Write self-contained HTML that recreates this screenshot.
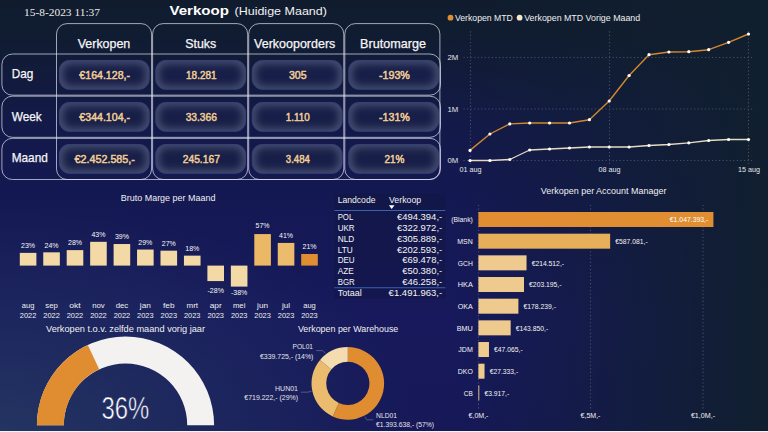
<!DOCTYPE html>
<html><head><meta charset="utf-8"><title>Verkoop (Huidige Maand)</title>
<style>
html,body{margin:0;padding:0;background:#101c2e;}
body{width:768px;height:432px;overflow:hidden;position:relative;font-family:"Liberation Sans",sans-serif;}
#bg{position:absolute;left:0;top:0;width:768px;height:432px;
 background:
  linear-gradient(to right, rgba(16,31,46,0) 450px, rgba(16,31,46,0.40) 580px, rgba(16,31,46,0.72) 680px, rgba(16,31,46,0.97) 768px),
  radial-gradient(ellipse 420px 230px at 0px 432px, rgba(36,54,98,0.95) 0%, rgba(36,54,98,0) 100%),
  linear-gradient(to bottom, #101c2e 0px, #101c30 30px, #131a48 120px, #141852 190px, #17195c 320px, #161858 432px);}
#bottomline{position:absolute;left:0;top:431px;width:768px;height:1px;background:#f4f4f6;}
svg{position:absolute;left:0;top:0;}
</style></head><body>
<div id="bg"></div>
<svg width="768" height="432" viewBox="0 0 768 432">
<defs>
<filter id="blur" x="-20%" y="-30%" width="140%" height="160%"><feGaussianBlur stdDeviation="4.2"/></filter>
<clipPath id="pc"><rect x="0" y="0" width="90.6" height="29.8" rx="11"/></clipPath>
</defs>
<g fill="none" stroke="#dfe3ee" stroke-opacity="0.7" stroke-width="1">
<rect x="56.50" y="23.6" width="95.10" height="155.90" rx="10.5"/>
<rect x="152.60" y="23.6" width="95.10" height="155.90" rx="10.5"/>
<rect x="248.70" y="23.6" width="95.10" height="155.90" rx="10.5"/>
<rect x="344.80" y="23.6" width="95.10" height="155.90" rx="10.5"/>
<rect x="1.9" y="54.00" width="438.60" height="41.17" rx="10.5"/>
<rect x="1.9" y="96.17" width="438.60" height="41.17" rx="10.5"/>
<rect x="1.9" y="138.34" width="438.60" height="41.17" rx="10.5"/>
</g>
<g transform="translate(58.95,59.90)"><rect width="90.6" height="29.8" rx="11" fill="#171f48"/><g clip-path="url(#pc)"><rect x="-1" y="-1" width="92.6" height="31.9" rx="12" fill="none" stroke="#a9b0c2" stroke-opacity="0.40" stroke-width="8" filter="url(#blur)"/></g><rect x="0.4" y="0.4" width="89.8" height="29.1" rx="10.6" fill="none" stroke="#2a3d8a" stroke-width="0.8" stroke-opacity="0.6"/></g>
<g transform="translate(155.40,59.90)"><rect width="90.6" height="29.8" rx="11" fill="#171f48"/><g clip-path="url(#pc)"><rect x="-1" y="-1" width="92.6" height="31.9" rx="12" fill="none" stroke="#a9b0c2" stroke-opacity="0.40" stroke-width="8" filter="url(#blur)"/></g><rect x="0.4" y="0.4" width="89.8" height="29.1" rx="10.6" fill="none" stroke="#2a3d8a" stroke-width="0.8" stroke-opacity="0.6"/></g>
<g transform="translate(251.85,59.90)"><rect width="90.6" height="29.8" rx="11" fill="#171f48"/><g clip-path="url(#pc)"><rect x="-1" y="-1" width="92.6" height="31.9" rx="12" fill="none" stroke="#a9b0c2" stroke-opacity="0.40" stroke-width="8" filter="url(#blur)"/></g><rect x="0.4" y="0.4" width="89.8" height="29.1" rx="10.6" fill="none" stroke="#2a3d8a" stroke-width="0.8" stroke-opacity="0.6"/></g>
<g transform="translate(348.30,59.90)"><rect width="90.6" height="29.8" rx="11" fill="#171f48"/><g clip-path="url(#pc)"><rect x="-1" y="-1" width="92.6" height="31.9" rx="12" fill="none" stroke="#a9b0c2" stroke-opacity="0.40" stroke-width="8" filter="url(#blur)"/></g><rect x="0.4" y="0.4" width="89.8" height="29.1" rx="10.6" fill="none" stroke="#2a3d8a" stroke-width="0.8" stroke-opacity="0.6"/></g>
<g transform="translate(58.95,102.00)"><rect width="90.6" height="29.8" rx="11" fill="#171f48"/><g clip-path="url(#pc)"><rect x="-1" y="-1" width="92.6" height="31.9" rx="12" fill="none" stroke="#a9b0c2" stroke-opacity="0.40" stroke-width="8" filter="url(#blur)"/></g><rect x="0.4" y="0.4" width="89.8" height="29.1" rx="10.6" fill="none" stroke="#2a3d8a" stroke-width="0.8" stroke-opacity="0.6"/></g>
<g transform="translate(155.40,102.00)"><rect width="90.6" height="29.8" rx="11" fill="#171f48"/><g clip-path="url(#pc)"><rect x="-1" y="-1" width="92.6" height="31.9" rx="12" fill="none" stroke="#a9b0c2" stroke-opacity="0.40" stroke-width="8" filter="url(#blur)"/></g><rect x="0.4" y="0.4" width="89.8" height="29.1" rx="10.6" fill="none" stroke="#2a3d8a" stroke-width="0.8" stroke-opacity="0.6"/></g>
<g transform="translate(251.85,102.00)"><rect width="90.6" height="29.8" rx="11" fill="#171f48"/><g clip-path="url(#pc)"><rect x="-1" y="-1" width="92.6" height="31.9" rx="12" fill="none" stroke="#a9b0c2" stroke-opacity="0.40" stroke-width="8" filter="url(#blur)"/></g><rect x="0.4" y="0.4" width="89.8" height="29.1" rx="10.6" fill="none" stroke="#2a3d8a" stroke-width="0.8" stroke-opacity="0.6"/></g>
<g transform="translate(348.30,102.00)"><rect width="90.6" height="29.8" rx="11" fill="#171f48"/><g clip-path="url(#pc)"><rect x="-1" y="-1" width="92.6" height="31.9" rx="12" fill="none" stroke="#a9b0c2" stroke-opacity="0.40" stroke-width="8" filter="url(#blur)"/></g><rect x="0.4" y="0.4" width="89.8" height="29.1" rx="10.6" fill="none" stroke="#2a3d8a" stroke-width="0.8" stroke-opacity="0.6"/></g>
<g transform="translate(58.95,143.90)"><rect width="90.6" height="29.8" rx="11" fill="#171f48"/><g clip-path="url(#pc)"><rect x="-1" y="-1" width="92.6" height="31.9" rx="12" fill="none" stroke="#a9b0c2" stroke-opacity="0.40" stroke-width="8" filter="url(#blur)"/></g><rect x="0.4" y="0.4" width="89.8" height="29.1" rx="10.6" fill="none" stroke="#2a3d8a" stroke-width="0.8" stroke-opacity="0.6"/></g>
<g transform="translate(155.40,143.90)"><rect width="90.6" height="29.8" rx="11" fill="#171f48"/><g clip-path="url(#pc)"><rect x="-1" y="-1" width="92.6" height="31.9" rx="12" fill="none" stroke="#a9b0c2" stroke-opacity="0.40" stroke-width="8" filter="url(#blur)"/></g><rect x="0.4" y="0.4" width="89.8" height="29.1" rx="10.6" fill="none" stroke="#2a3d8a" stroke-width="0.8" stroke-opacity="0.6"/></g>
<g transform="translate(251.85,143.90)"><rect width="90.6" height="29.8" rx="11" fill="#171f48"/><g clip-path="url(#pc)"><rect x="-1" y="-1" width="92.6" height="31.9" rx="12" fill="none" stroke="#a9b0c2" stroke-opacity="0.40" stroke-width="8" filter="url(#blur)"/></g><rect x="0.4" y="0.4" width="89.8" height="29.1" rx="10.6" fill="none" stroke="#2a3d8a" stroke-width="0.8" stroke-opacity="0.6"/></g>
<g transform="translate(348.30,143.90)"><rect width="90.6" height="29.8" rx="11" fill="#171f48"/><g clip-path="url(#pc)"><rect x="-1" y="-1" width="92.6" height="31.9" rx="12" fill="none" stroke="#a9b0c2" stroke-opacity="0.40" stroke-width="8" filter="url(#blur)"/></g><rect x="0.4" y="0.4" width="89.8" height="29.1" rx="10.6" fill="none" stroke="#2a3d8a" stroke-width="0.8" stroke-opacity="0.6"/></g>
<text x="24.00" y="16.30" font-size="11.2" text-anchor="start" fill="#eceae6" font-family="Liberation Serif" textLength="76.00" lengthAdjust="spacingAndGlyphs">15-8-2023 11:37</text>
<text x="169.50" y="15.00" font-size="12.8" text-anchor="start" fill="#ffffff" font-family="Liberation Sans" font-weight="700" textLength="59.50" lengthAdjust="spacingAndGlyphs">Verkoop</text>
<text x="234.50" y="15.00" font-size="10.5" text-anchor="start" fill="#f2f2f2" font-family="Liberation Sans" textLength="92.40" lengthAdjust="spacingAndGlyphs">(Huidige Maand)</text>
<text x="104.00" y="47.80" font-size="12.6" text-anchor="middle" fill="#f6f6f6" font-family="Liberation Sans" textLength="52.50" lengthAdjust="spacingAndGlyphs" stroke="#f6f6f6" stroke-width="0.25">Verkopen</text>
<text x="200.75" y="47.80" font-size="12.6" text-anchor="middle" fill="#f6f6f6" font-family="Liberation Sans" textLength="31.00" lengthAdjust="spacingAndGlyphs" stroke="#f6f6f6" stroke-width="0.25">Stuks</text>
<text x="294.70" y="47.80" font-size="12.6" text-anchor="middle" fill="#f6f6f6" font-family="Liberation Sans" textLength="81.30" lengthAdjust="spacingAndGlyphs" stroke="#f6f6f6" stroke-width="0.25">Verkooporders</text>
<text x="393.05" y="47.80" font-size="12.6" text-anchor="middle" fill="#f6f6f6" font-family="Liberation Sans" textLength="65.90" lengthAdjust="spacingAndGlyphs" stroke="#f6f6f6" stroke-width="0.25">Brutomarge</text>
<text x="11.70" y="78.00" font-size="12.6" text-anchor="start" fill="#f6f6f6" font-family="Liberation Sans" textLength="21.60" lengthAdjust="spacingAndGlyphs" stroke="#f6f6f6" stroke-width="0.25">Dag</text>
<text x="11.70" y="120.50" font-size="12.6" text-anchor="start" fill="#f6f6f6" font-family="Liberation Sans" textLength="30.00" lengthAdjust="spacingAndGlyphs" stroke="#f6f6f6" stroke-width="0.25">Week</text>
<text x="11.70" y="161.60" font-size="12.6" text-anchor="start" fill="#f6f6f6" font-family="Liberation Sans" textLength="36.10" lengthAdjust="spacingAndGlyphs" stroke="#f6f6f6" stroke-width="0.25">Maand</text>
<text x="104.70" y="79.00" font-size="11" text-anchor="middle" fill="#f1cd94" font-family="Liberation Sans" textLength="50.70" lengthAdjust="spacingAndGlyphs" stroke="#f1cd94" stroke-width="0.5">€164.128,-</text>
<text x="201.30" y="79.00" font-size="11" text-anchor="middle" fill="#f1cd94" font-family="Liberation Sans" textLength="30.50" lengthAdjust="spacingAndGlyphs" stroke="#f1cd94" stroke-width="0.5">18.281</text>
<text x="297.80" y="79.00" font-size="11" text-anchor="middle" fill="#f1cd94" font-family="Liberation Sans" textLength="17.60" lengthAdjust="spacingAndGlyphs" stroke="#f1cd94" stroke-width="0.5">305</text>
<text x="394.40" y="79.00" font-size="11" text-anchor="middle" fill="#f1cd94" font-family="Liberation Sans" textLength="31.00" lengthAdjust="spacingAndGlyphs" stroke="#f1cd94" stroke-width="0.5">-193%</text>
<text x="104.70" y="121.00" font-size="11" text-anchor="middle" fill="#f1cd94" font-family="Liberation Sans" textLength="50.70" lengthAdjust="spacingAndGlyphs" stroke="#f1cd94" stroke-width="0.5">€344.104,-</text>
<text x="201.30" y="121.00" font-size="11" text-anchor="middle" fill="#f1cd94" font-family="Liberation Sans" textLength="31.20" lengthAdjust="spacingAndGlyphs" stroke="#f1cd94" stroke-width="0.5">33.366</text>
<text x="297.80" y="121.00" font-size="11" text-anchor="middle" fill="#f1cd94" font-family="Liberation Sans" textLength="24.00" lengthAdjust="spacingAndGlyphs" stroke="#f1cd94" stroke-width="0.5">1.110</text>
<text x="394.40" y="121.00" font-size="11" text-anchor="middle" fill="#f1cd94" font-family="Liberation Sans" textLength="31.00" lengthAdjust="spacingAndGlyphs" stroke="#f1cd94" stroke-width="0.5">-131%</text>
<text x="104.70" y="162.70" font-size="11" text-anchor="middle" fill="#f1cd94" font-family="Liberation Sans" textLength="60.50" lengthAdjust="spacingAndGlyphs" stroke="#f1cd94" stroke-width="0.5">€2.452.585,-</text>
<text x="201.30" y="162.70" font-size="11" text-anchor="middle" fill="#f1cd94" font-family="Liberation Sans" textLength="37.20" lengthAdjust="spacingAndGlyphs" stroke="#f1cd94" stroke-width="0.5">245.167</text>
<text x="297.80" y="162.70" font-size="11" text-anchor="middle" fill="#f1cd94" font-family="Liberation Sans" textLength="24.00" lengthAdjust="spacingAndGlyphs" stroke="#f1cd94" stroke-width="0.5">3.484</text>
<text x="394.40" y="162.70" font-size="11" text-anchor="middle" fill="#f1cd94" font-family="Liberation Sans" textLength="20.00" lengthAdjust="spacingAndGlyphs" stroke="#f1cd94" stroke-width="0.5">21%</text>
<g stroke="#9aa0b4" stroke-width="1.1" stroke-dasharray="1.1 2.45" opacity="0.4">
<line x1="463.5" y1="57.5" x2="754.5" y2="57.5"/>
<line x1="463.5" y1="109" x2="754.5" y2="109"/>
<line x1="463.5" y1="160.5" x2="754.5" y2="160.5"/>
<line x1="470.5" y1="31.3" x2="470.5" y2="165"/>
<line x1="609.5" y1="31.3" x2="609.5" y2="165"/>
<line x1="748.5" y1="31.3" x2="748.5" y2="165"/>
</g>
<polyline points="470.0,160.5 489.9,160.5 509.8,159.5 529.7,150.0 549.6,149.0 569.5,148.0 589.4,147.0 609.2,147.0 629.1,147.0 649.0,145.5 668.9,144.5 688.8,142.8 708.7,140.5 728.6,139.5 748.5,139.5" fill="none" stroke="#e6d9be" stroke-width="1.3" stroke-linejoin="round"/>
<circle cx="470.0" cy="160.5" r="1.6" fill="#ffffff"/>
<circle cx="489.9" cy="160.5" r="1.6" fill="#ffffff"/>
<circle cx="509.8" cy="159.5" r="1.6" fill="#ffffff"/>
<circle cx="529.7" cy="150.0" r="1.6" fill="#ffffff"/>
<circle cx="549.6" cy="149.0" r="1.6" fill="#ffffff"/>
<circle cx="569.5" cy="148.0" r="1.6" fill="#ffffff"/>
<circle cx="589.4" cy="147.0" r="1.6" fill="#ffffff"/>
<circle cx="609.2" cy="147.0" r="1.6" fill="#ffffff"/>
<circle cx="629.1" cy="147.0" r="1.6" fill="#ffffff"/>
<circle cx="649.0" cy="145.5" r="1.6" fill="#ffffff"/>
<circle cx="668.9" cy="144.5" r="1.6" fill="#ffffff"/>
<circle cx="688.8" cy="142.8" r="1.6" fill="#ffffff"/>
<circle cx="708.7" cy="140.5" r="1.6" fill="#ffffff"/>
<circle cx="728.6" cy="139.5" r="1.6" fill="#ffffff"/>
<circle cx="748.5" cy="139.5" r="1.6" fill="#ffffff"/>
<polyline points="470.0,150.4 489.9,134.0 509.8,123.9 529.7,123.0 549.6,123.0 569.5,123.0 589.4,119.7 609.2,101.0 629.1,75.5 649.0,54.7 668.9,52.0 688.8,51.7 708.7,49.7 728.6,42.3 748.5,34.0" fill="none" stroke="#d4872b" stroke-width="1.4" stroke-linejoin="round"/>
<circle cx="470.0" cy="150.4" r="1.6" fill="#ffffff"/>
<circle cx="489.9" cy="134.0" r="1.6" fill="#ffffff"/>
<circle cx="509.8" cy="123.9" r="1.6" fill="#ffffff"/>
<circle cx="529.7" cy="123.0" r="1.6" fill="#ffffff"/>
<circle cx="549.6" cy="123.0" r="1.6" fill="#ffffff"/>
<circle cx="569.5" cy="123.0" r="1.6" fill="#ffffff"/>
<circle cx="589.4" cy="119.7" r="1.6" fill="#ffffff"/>
<circle cx="609.2" cy="101.0" r="1.6" fill="#ffffff"/>
<circle cx="629.1" cy="75.5" r="1.6" fill="#ffffff"/>
<circle cx="649.0" cy="54.7" r="1.6" fill="#ffffff"/>
<circle cx="668.9" cy="52.0" r="1.6" fill="#ffffff"/>
<circle cx="688.8" cy="51.7" r="1.6" fill="#ffffff"/>
<circle cx="708.7" cy="49.7" r="1.6" fill="#ffffff"/>
<circle cx="728.6" cy="42.3" r="1.6" fill="#ffffff"/>
<circle cx="748.5" cy="34.0" r="1.6" fill="#ffffff"/>
<text x="447.50" y="60.35" font-size="7.9" text-anchor="start" fill="#e6e6ea" font-family="Liberation Sans" textLength="10.80" lengthAdjust="spacingAndGlyphs">2M</text>
<text x="447.50" y="111.85" font-size="7.9" text-anchor="start" fill="#e6e6ea" font-family="Liberation Sans" textLength="10.80" lengthAdjust="spacingAndGlyphs">1M</text>
<text x="447.50" y="163.35" font-size="7.9" text-anchor="start" fill="#e6e6ea" font-family="Liberation Sans" textLength="10.80" lengthAdjust="spacingAndGlyphs">0M</text>
<text x="470.50" y="172.10" font-size="7.9" text-anchor="middle" fill="#e6e6ea" font-family="Liberation Sans" textLength="22.00" lengthAdjust="spacingAndGlyphs">01 aug</text>
<text x="609.50" y="172.10" font-size="7.9" text-anchor="middle" fill="#e6e6ea" font-family="Liberation Sans" textLength="22.00" lengthAdjust="spacingAndGlyphs">08 aug</text>
<text x="749.00" y="172.10" font-size="7.9" text-anchor="middle" fill="#e6e6ea" font-family="Liberation Sans" textLength="22.00" lengthAdjust="spacingAndGlyphs">15 aug</text>
<circle cx="450.5" cy="17.7" r="2.9" fill="#e08e31"/>
<text x="455.00" y="20.90" font-size="8.8" text-anchor="start" fill="#f0f0f0" font-family="Liberation Sans" textLength="57.80" lengthAdjust="spacingAndGlyphs">Verkopen MTD</text>
<circle cx="519.6" cy="17.7" r="2.9" fill="#f5e6c8"/>
<text x="524.20" y="20.90" font-size="8.8" text-anchor="start" fill="#f0f0f0" font-family="Liberation Sans" textLength="116.00" lengthAdjust="spacingAndGlyphs">Verkopen MTD Vorige Maand</text>
<text x="168.10" y="200.60" font-size="8.6" text-anchor="middle" fill="#f0f0f0" font-family="Liberation Sans" textLength="94.60" lengthAdjust="spacingAndGlyphs">Bruto Marge per Maand</text>
<rect x="19.80" y="252.88" width="16.60" height="12.72" fill="#f3d9a6"/>
<text x="28.10" y="248.08" font-size="7.6" text-anchor="middle" fill="#f8f8f8" font-family="Liberation Sans" textLength="14.00" lengthAdjust="spacingAndGlyphs">23%</text>
<text x="28.10" y="308.00" font-size="7.4" text-anchor="middle" fill="#f0f0f0" font-family="Liberation Sans" textLength="12.50" lengthAdjust="spacingAndGlyphs">aug</text>
<text x="28.10" y="318.00" font-size="7.4" text-anchor="middle" fill="#f0f0f0" font-family="Liberation Sans" textLength="16.50" lengthAdjust="spacingAndGlyphs">2022</text>
<rect x="43.25" y="252.33" width="16.60" height="13.27" fill="#f3d9a6"/>
<text x="51.55" y="247.53" font-size="7.6" text-anchor="middle" fill="#f8f8f8" font-family="Liberation Sans" textLength="14.00" lengthAdjust="spacingAndGlyphs">24%</text>
<text x="51.55" y="308.00" font-size="7.4" text-anchor="middle" fill="#f0f0f0" font-family="Liberation Sans" textLength="12.50" lengthAdjust="spacingAndGlyphs">sep</text>
<text x="51.55" y="318.00" font-size="7.4" text-anchor="middle" fill="#f0f0f0" font-family="Liberation Sans" textLength="16.50" lengthAdjust="spacingAndGlyphs">2022</text>
<rect x="66.70" y="250.12" width="16.60" height="15.48" fill="#f3d9a6"/>
<text x="75.00" y="245.32" font-size="7.6" text-anchor="middle" fill="#f8f8f8" font-family="Liberation Sans" textLength="14.00" lengthAdjust="spacingAndGlyphs">28%</text>
<text x="75.00" y="308.00" font-size="7.4" text-anchor="middle" fill="#f0f0f0" font-family="Liberation Sans" textLength="11.50" lengthAdjust="spacingAndGlyphs">okt</text>
<text x="75.00" y="318.00" font-size="7.4" text-anchor="middle" fill="#f0f0f0" font-family="Liberation Sans" textLength="16.50" lengthAdjust="spacingAndGlyphs">2022</text>
<rect x="90.15" y="241.82" width="16.60" height="23.78" fill="#f3d9a6"/>
<text x="98.45" y="237.02" font-size="7.6" text-anchor="middle" fill="#f8f8f8" font-family="Liberation Sans" textLength="14.00" lengthAdjust="spacingAndGlyphs">43%</text>
<text x="98.45" y="308.00" font-size="7.4" text-anchor="middle" fill="#f0f0f0" font-family="Liberation Sans" textLength="12.50" lengthAdjust="spacingAndGlyphs">nov</text>
<text x="98.45" y="318.00" font-size="7.4" text-anchor="middle" fill="#f0f0f0" font-family="Liberation Sans" textLength="16.50" lengthAdjust="spacingAndGlyphs">2022</text>
<rect x="113.60" y="244.03" width="16.60" height="21.57" fill="#f3d9a6"/>
<text x="121.90" y="239.23" font-size="7.6" text-anchor="middle" fill="#f8f8f8" font-family="Liberation Sans" textLength="14.00" lengthAdjust="spacingAndGlyphs">39%</text>
<text x="121.90" y="308.00" font-size="7.4" text-anchor="middle" fill="#f0f0f0" font-family="Liberation Sans" textLength="12.50" lengthAdjust="spacingAndGlyphs">dec</text>
<text x="121.90" y="318.00" font-size="7.4" text-anchor="middle" fill="#f0f0f0" font-family="Liberation Sans" textLength="16.50" lengthAdjust="spacingAndGlyphs">2022</text>
<rect x="137.05" y="249.56" width="16.60" height="16.04" fill="#f3d9a6"/>
<text x="145.35" y="244.76" font-size="7.6" text-anchor="middle" fill="#f8f8f8" font-family="Liberation Sans" textLength="14.00" lengthAdjust="spacingAndGlyphs">29%</text>
<text x="145.35" y="308.00" font-size="7.4" text-anchor="middle" fill="#f0f0f0" font-family="Liberation Sans" textLength="11.00" lengthAdjust="spacingAndGlyphs">jan</text>
<text x="145.35" y="318.00" font-size="7.4" text-anchor="middle" fill="#f0f0f0" font-family="Liberation Sans" textLength="16.50" lengthAdjust="spacingAndGlyphs">2023</text>
<rect x="160.50" y="250.67" width="16.60" height="14.93" fill="#f3d9a6"/>
<text x="168.80" y="245.87" font-size="7.6" text-anchor="middle" fill="#f8f8f8" font-family="Liberation Sans" textLength="14.00" lengthAdjust="spacingAndGlyphs">27%</text>
<text x="168.80" y="308.00" font-size="7.4" text-anchor="middle" fill="#f0f0f0" font-family="Liberation Sans" textLength="11.50" lengthAdjust="spacingAndGlyphs">feb</text>
<text x="168.80" y="318.00" font-size="7.4" text-anchor="middle" fill="#f0f0f0" font-family="Liberation Sans" textLength="16.50" lengthAdjust="spacingAndGlyphs">2023</text>
<rect x="183.95" y="255.65" width="16.60" height="9.95" fill="#f3d9a6"/>
<text x="192.25" y="250.85" font-size="7.6" text-anchor="middle" fill="#f8f8f8" font-family="Liberation Sans" textLength="14.00" lengthAdjust="spacingAndGlyphs">18%</text>
<text x="192.25" y="308.00" font-size="7.4" text-anchor="middle" fill="#f0f0f0" font-family="Liberation Sans" textLength="11.50" lengthAdjust="spacingAndGlyphs">mrt</text>
<text x="192.25" y="318.00" font-size="7.4" text-anchor="middle" fill="#f0f0f0" font-family="Liberation Sans" textLength="16.50" lengthAdjust="spacingAndGlyphs">2023</text>
<rect x="207.40" y="265.60" width="16.60" height="15.48" fill="#f3d9a6"/>
<text x="215.70" y="293.20" font-size="7.6" text-anchor="middle" fill="#f8f8f8" font-family="Liberation Sans" textLength="16.30" lengthAdjust="spacingAndGlyphs">-28%</text>
<text x="215.70" y="308.00" font-size="7.4" text-anchor="middle" fill="#f0f0f0" font-family="Liberation Sans" textLength="12.00" lengthAdjust="spacingAndGlyphs">apr</text>
<text x="215.70" y="318.00" font-size="7.4" text-anchor="middle" fill="#f0f0f0" font-family="Liberation Sans" textLength="16.50" lengthAdjust="spacingAndGlyphs">2023</text>
<rect x="230.85" y="265.60" width="16.60" height="21.01" fill="#f3d9a6"/>
<text x="239.15" y="294.70" font-size="7.6" text-anchor="middle" fill="#f8f8f8" font-family="Liberation Sans" textLength="16.30" lengthAdjust="spacingAndGlyphs">-38%</text>
<text x="239.15" y="308.00" font-size="7.4" text-anchor="middle" fill="#f0f0f0" font-family="Liberation Sans" textLength="12.50" lengthAdjust="spacingAndGlyphs">mei</text>
<text x="239.15" y="318.00" font-size="7.4" text-anchor="middle" fill="#f0f0f0" font-family="Liberation Sans" textLength="16.50" lengthAdjust="spacingAndGlyphs">2023</text>
<rect x="254.30" y="234.08" width="16.60" height="31.52" fill="#ebb865"/>
<text x="262.60" y="228.48" font-size="7.6" text-anchor="middle" fill="#f8f8f8" font-family="Liberation Sans" textLength="14.00" lengthAdjust="spacingAndGlyphs">57%</text>
<text x="262.60" y="308.00" font-size="7.4" text-anchor="middle" fill="#f0f0f0" font-family="Liberation Sans" textLength="11.00" lengthAdjust="spacingAndGlyphs">jun</text>
<text x="262.60" y="318.00" font-size="7.4" text-anchor="middle" fill="#f0f0f0" font-family="Liberation Sans" textLength="16.50" lengthAdjust="spacingAndGlyphs">2023</text>
<rect x="277.75" y="242.93" width="16.60" height="22.67" fill="#ecbc6c"/>
<text x="286.05" y="238.13" font-size="7.6" text-anchor="middle" fill="#f8f8f8" font-family="Liberation Sans" textLength="14.00" lengthAdjust="spacingAndGlyphs">41%</text>
<text x="286.05" y="308.00" font-size="7.4" text-anchor="middle" fill="#f0f0f0" font-family="Liberation Sans" textLength="8.00" lengthAdjust="spacingAndGlyphs">jul</text>
<text x="286.05" y="318.00" font-size="7.4" text-anchor="middle" fill="#f0f0f0" font-family="Liberation Sans" textLength="16.50" lengthAdjust="spacingAndGlyphs">2023</text>
<rect x="301.20" y="253.99" width="16.60" height="11.61" fill="#e08e31"/>
<text x="309.50" y="249.19" font-size="7.6" text-anchor="middle" fill="#f8f8f8" font-family="Liberation Sans" textLength="14.00" lengthAdjust="spacingAndGlyphs">21%</text>
<text x="309.50" y="308.00" font-size="7.4" text-anchor="middle" fill="#f0f0f0" font-family="Liberation Sans" textLength="12.50" lengthAdjust="spacingAndGlyphs">aug</text>
<text x="309.50" y="318.00" font-size="7.4" text-anchor="middle" fill="#f0f0f0" font-family="Liberation Sans" textLength="16.50" lengthAdjust="spacingAndGlyphs">2023</text>
<text x="125.50" y="331.60" font-size="8.6" text-anchor="middle" fill="#f0f0f0" font-family="Liberation Sans" textLength="159.00" lengthAdjust="spacingAndGlyphs">Verkopen t.o.v. zelfde maand vorig jaar</text>
<path d="M36.90,425.20 A88.6,88.6 0 0 1 214.10,425.20 L187.20,425.20 A61.7,61.7 0 0 0 63.80,425.20 Z" fill="#f3f2f1"/>
<path d="M36.90,425.20 A88.6,88.6 0 0 1 87.78,345.03 L99.23,369.37 A61.7,61.7 0 0 0 63.80,425.20 Z" fill="#e08d31"/>
<text x="125.45" y="419.25" font-size="30.8" text-anchor="middle" fill="#ffffff" font-family="Liberation Sans" textLength="47.80" lengthAdjust="spacingAndGlyphs" stroke="#1c2862" stroke-width="0.55">36%</text>
<text x="348.10" y="331.70" font-size="8.6" text-anchor="middle" fill="#f0f0f0" font-family="Liberation Sans" textLength="100.40" lengthAdjust="spacingAndGlyphs">Verkopen per Warehouse</text>
<path d="M347.80,347.10 A36.3,36.3 0 1 1 332.70,416.41 L338.81,403.04 A21.6,21.6 0 1 0 347.80,361.80 Z" fill="#e08d31"/>
<path d="M332.70,416.41 A36.3,36.3 0 0 1 320.06,359.98 L331.30,369.47 A21.6,21.6 0 0 0 338.81,403.04 Z" fill="#ecbc6e"/>
<path d="M320.06,359.98 A36.3,36.3 0 0 1 347.80,347.10 L347.80,361.80 A21.6,21.6 0 0 0 331.30,369.47 Z" fill="#f5dcae"/>
<text x="313.00" y="348.60" font-size="7.8" text-anchor="end" fill="#e4e4ea" font-family="Liberation Sans" textLength="20.50" lengthAdjust="spacingAndGlyphs">POL01</text>
<text x="313.40" y="359.00" font-size="7.8" text-anchor="end" fill="#e4e4ea" font-family="Liberation Sans" textLength="53.40" lengthAdjust="spacingAndGlyphs">€339.725,- (14%)</text>
<text x="298.00" y="390.80" font-size="7.8" text-anchor="end" fill="#e4e4ea" font-family="Liberation Sans" textLength="23.00" lengthAdjust="spacingAndGlyphs">HUN01</text>
<text x="298.00" y="400.00" font-size="7.8" text-anchor="end" fill="#e4e4ea" font-family="Liberation Sans" textLength="53.70" lengthAdjust="spacingAndGlyphs">€719.222,- (29%)</text>
<text x="376.10" y="417.80" font-size="7.8" text-anchor="start" fill="#e4e4ea" font-family="Liberation Sans" textLength="21.00" lengthAdjust="spacingAndGlyphs">NLD01</text>
<text x="376.10" y="427.30" font-size="7.8" text-anchor="start" fill="#e4e4ea" font-family="Liberation Sans" textLength="58.00" lengthAdjust="spacingAndGlyphs">€1.393.638,- (57%)</text>
<g fill="none" stroke="#7a80a2" stroke-width="0.8" opacity="0.75">
<polyline points="316.2,350.6 322.7,350.6 325.4,353.3"/>
<polyline points="300.8,392.2 308,392.2 311.6,391"/>
<polyline points="364.7,416.6 366.9,419.8 373.3,419.8"/>
</g>
<rect x="334.40" y="193.50" width="110.90" height="105.50" fill="#0e1538" opacity="0.33"/>
<text x="337.70" y="203.30" font-size="8.8" text-anchor="start" fill="#f2f2f2" font-family="Liberation Sans" textLength="37.80" lengthAdjust="spacingAndGlyphs">Landcode</text>
<text x="389.00" y="203.30" font-size="8.8" text-anchor="start" fill="#f2f2f2" font-family="Liberation Sans" textLength="32.20" lengthAdjust="spacingAndGlyphs">Verkoop</text>
<path d="M388.9,205.2 L394.5,205.2 L391.7,208.9 Z" fill="#ffffff"/>
<line x1="334.4" y1="210.5" x2="445.3" y2="210.5" stroke="#3a62b4" stroke-width="1.1"/>
<line x1="334.4" y1="287.8" x2="445.3" y2="287.8" stroke="#3a62b4" stroke-width="1.1"/>
<text x="337.70" y="219.75" font-size="8.8" text-anchor="start" fill="#f4f4f4" font-family="Liberation Sans" textLength="15.50" lengthAdjust="spacingAndGlyphs">POL</text>
<text x="442.20" y="219.75" font-size="8.8" text-anchor="end" fill="#f4f4f4" font-family="Liberation Sans" textLength="45.30" lengthAdjust="spacingAndGlyphs">€494.394,-</text>
<text x="337.70" y="230.67" font-size="8.8" text-anchor="start" fill="#f4f4f4" font-family="Liberation Sans" textLength="17.00" lengthAdjust="spacingAndGlyphs">UKR</text>
<text x="442.20" y="230.67" font-size="8.8" text-anchor="end" fill="#f4f4f4" font-family="Liberation Sans" textLength="45.30" lengthAdjust="spacingAndGlyphs">€322.972,-</text>
<text x="337.70" y="241.59" font-size="8.8" text-anchor="start" fill="#f4f4f4" font-family="Liberation Sans" textLength="16.50" lengthAdjust="spacingAndGlyphs">NLD</text>
<text x="442.20" y="241.59" font-size="8.8" text-anchor="end" fill="#f4f4f4" font-family="Liberation Sans" textLength="45.30" lengthAdjust="spacingAndGlyphs">€305.889,-</text>
<text x="337.70" y="252.51" font-size="8.8" text-anchor="start" fill="#f4f4f4" font-family="Liberation Sans" textLength="15.00" lengthAdjust="spacingAndGlyphs">LTU</text>
<text x="442.20" y="252.51" font-size="8.8" text-anchor="end" fill="#f4f4f4" font-family="Liberation Sans" textLength="45.30" lengthAdjust="spacingAndGlyphs">€202.593,-</text>
<text x="337.70" y="263.43" font-size="8.8" text-anchor="start" fill="#f4f4f4" font-family="Liberation Sans" textLength="17.00" lengthAdjust="spacingAndGlyphs">DEU</text>
<text x="442.20" y="263.43" font-size="8.8" text-anchor="end" fill="#f4f4f4" font-family="Liberation Sans" textLength="40.00" lengthAdjust="spacingAndGlyphs">€69.478,-</text>
<text x="337.70" y="274.35" font-size="8.8" text-anchor="start" fill="#f4f4f4" font-family="Liberation Sans" textLength="16.00" lengthAdjust="spacingAndGlyphs">AZE</text>
<text x="442.20" y="274.35" font-size="8.8" text-anchor="end" fill="#f4f4f4" font-family="Liberation Sans" textLength="40.00" lengthAdjust="spacingAndGlyphs">€50.380,-</text>
<text x="337.70" y="285.27" font-size="8.8" text-anchor="start" fill="#f4f4f4" font-family="Liberation Sans" textLength="17.00" lengthAdjust="spacingAndGlyphs">BGR</text>
<text x="442.20" y="285.27" font-size="8.8" text-anchor="end" fill="#f4f4f4" font-family="Liberation Sans" textLength="40.00" lengthAdjust="spacingAndGlyphs">€46.258,-</text>
<text x="337.70" y="296.19" font-size="8.8" text-anchor="start" fill="#f4f4f4" font-family="Liberation Sans" textLength="24.00" lengthAdjust="spacingAndGlyphs">Totaal</text>
<text x="442.20" y="296.19" font-size="8.8" text-anchor="end" fill="#f4f4f4" font-family="Liberation Sans" textLength="53.60" lengthAdjust="spacingAndGlyphs">€1.491.963,-</text>
<text x="603.60" y="193.90" font-size="8.7" text-anchor="middle" fill="#f0f0f0" font-family="Liberation Sans" textLength="125.60" lengthAdjust="spacingAndGlyphs">Verkopen per Account Manager</text>
<g stroke="#9aa0b4" stroke-width="1.1" stroke-dasharray="1.1 2.45" opacity="0.4">
<line x1="478.5" y1="205" x2="478.5" y2="409"/>
<line x1="590.5" y1="205" x2="590.5" y2="409"/>
<line x1="703" y1="205" x2="703" y2="409"/>
</g>
<rect x="478.40" y="212.00" width="235.03" height="15.00" fill="#e08e31"/>
<text x="472.80" y="222.30" font-size="7.8" text-anchor="end" fill="#f4f4f4" font-family="Liberation Sans" textLength="21.50" lengthAdjust="spacingAndGlyphs">(Blank)</text>
<text x="708.30" y="222.20" font-size="7.4" text-anchor="end" fill="#ffffff" font-family="Liberation Sans" textLength="38.50" lengthAdjust="spacingAndGlyphs">€1.047.393,-</text>
<rect x="478.40" y="233.67" width="131.74" height="15.00" fill="#e8af5b"/>
<text x="472.80" y="243.97" font-size="7.8" text-anchor="end" fill="#f4f4f4" font-family="Liberation Sans" textLength="15.50" lengthAdjust="spacingAndGlyphs">MSN</text>
<text x="615.24" y="243.87" font-size="7.4" text-anchor="start" fill="#f4f4f4" font-family="Liberation Sans" textLength="32.40" lengthAdjust="spacingAndGlyphs">€587.081,-</text>
<rect x="478.40" y="255.34" width="48.14" height="15.00" fill="#efca8e"/>
<text x="472.80" y="265.64" font-size="7.8" text-anchor="end" fill="#f4f4f4" font-family="Liberation Sans" textLength="15.00" lengthAdjust="spacingAndGlyphs">GCH</text>
<text x="531.64" y="265.54" font-size="7.4" text-anchor="start" fill="#f4f4f4" font-family="Liberation Sans" textLength="32.40" lengthAdjust="spacingAndGlyphs">€214.512,-</text>
<rect x="478.40" y="277.01" width="45.60" height="15.00" fill="#efca8e"/>
<text x="472.80" y="287.31" font-size="7.8" text-anchor="end" fill="#f4f4f4" font-family="Liberation Sans" textLength="15.00" lengthAdjust="spacingAndGlyphs">HKA</text>
<text x="529.10" y="287.21" font-size="7.4" text-anchor="start" fill="#f4f4f4" font-family="Liberation Sans" textLength="32.40" lengthAdjust="spacingAndGlyphs">€203.195,-</text>
<rect x="478.40" y="298.68" width="40.00" height="15.00" fill="#efca8e"/>
<text x="472.80" y="308.98" font-size="7.8" text-anchor="end" fill="#f4f4f4" font-family="Liberation Sans" textLength="15.00" lengthAdjust="spacingAndGlyphs">OKA</text>
<text x="523.50" y="308.88" font-size="7.4" text-anchor="start" fill="#f4f4f4" font-family="Liberation Sans" textLength="32.40" lengthAdjust="spacingAndGlyphs">€178.239,-</text>
<rect x="478.40" y="320.35" width="32.28" height="15.00" fill="#efca8e"/>
<text x="472.80" y="330.65" font-size="7.8" text-anchor="end" fill="#f4f4f4" font-family="Liberation Sans" textLength="16.00" lengthAdjust="spacingAndGlyphs">BMU</text>
<text x="515.78" y="330.55" font-size="7.4" text-anchor="start" fill="#f4f4f4" font-family="Liberation Sans" textLength="32.40" lengthAdjust="spacingAndGlyphs">€143.850,-</text>
<rect x="478.40" y="342.02" width="10.56" height="15.00" fill="#efca8e"/>
<text x="472.80" y="352.32" font-size="7.8" text-anchor="end" fill="#f4f4f4" font-family="Liberation Sans" textLength="14.50" lengthAdjust="spacingAndGlyphs">JDM</text>
<text x="494.06" y="352.22" font-size="7.4" text-anchor="start" fill="#f4f4f4" font-family="Liberation Sans" textLength="28.60" lengthAdjust="spacingAndGlyphs">€47.065,-</text>
<rect x="478.40" y="363.69" width="6.13" height="15.00" fill="#efca8e"/>
<text x="472.80" y="373.99" font-size="7.8" text-anchor="end" fill="#f4f4f4" font-family="Liberation Sans" textLength="15.00" lengthAdjust="spacingAndGlyphs">DKO</text>
<text x="489.63" y="373.89" font-size="7.4" text-anchor="start" fill="#f4f4f4" font-family="Liberation Sans" textLength="28.60" lengthAdjust="spacingAndGlyphs">€27.333,-</text>
<rect x="478.40" y="385.36" width="0.88" height="15.00" fill="#efca8e"/>
<text x="472.80" y="395.66" font-size="7.8" text-anchor="end" fill="#f4f4f4" font-family="Liberation Sans" textLength="9.00" lengthAdjust="spacingAndGlyphs">CB</text>
<text x="484.38" y="395.56" font-size="7.4" text-anchor="start" fill="#f4f4f4" font-family="Liberation Sans" textLength="24.80" lengthAdjust="spacingAndGlyphs">€3.917,-</text>
<text x="478.50" y="418.30" font-size="7.4" text-anchor="middle" fill="#f0f0f0" font-family="Liberation Sans" textLength="19.90" lengthAdjust="spacingAndGlyphs">€,0M,-</text>
<text x="590.50" y="418.30" font-size="7.4" text-anchor="middle" fill="#f0f0f0" font-family="Liberation Sans" textLength="19.90" lengthAdjust="spacingAndGlyphs">€,5M,-</text>
<text x="703.00" y="418.30" font-size="7.4" text-anchor="middle" fill="#f0f0f0" font-family="Liberation Sans" textLength="24.20" lengthAdjust="spacingAndGlyphs">€1,0M,-</text>
</svg>
<div id="bottomline"></div>
</body></html>
